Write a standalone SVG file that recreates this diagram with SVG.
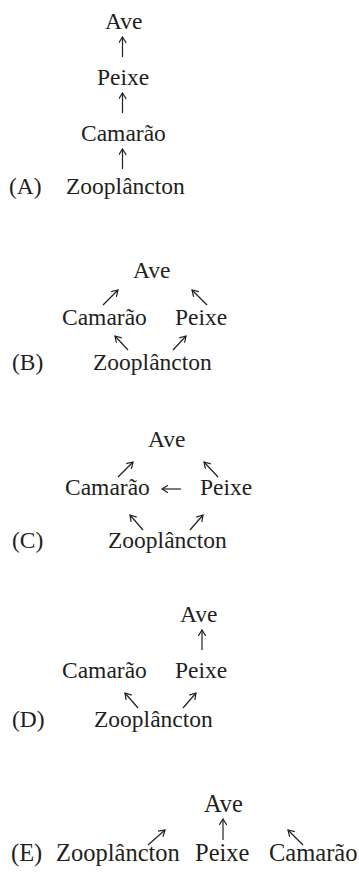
<svg xmlns="http://www.w3.org/2000/svg" width="359" height="872" viewBox="0 0 359 872">
<style>
text{font-family:"Liberation Serif","Times New Roman",serif;font-size:23.5px;fill:#231f20}
.e text{font-size:24.5px}
.c line{stroke:#231f20;stroke-width:1.2;fill:none;marker-end:url(#ah)}
</style>
<defs>
<marker id="ah" viewBox="0 0 8 8" refX="7" refY="4" markerWidth="8" markerHeight="8" orient="auto" markerUnits="userSpaceOnUse">
<path d="M1,0.3 L7,4 L1,7.7" fill="none" stroke="#231f20" stroke-width="1.2"/>
</marker>
</defs>
<rect width="359" height="872" fill="#fff"/>
<!-- Panel A -->
<g id="A-label"><text x="9" y="194">(A)</text></g>
<g id="A-ave"><text x="105" y="29">Ave</text></g>
<g id="A-peixe"><text x="97" y="85">Peixe</text></g>
<g id="A-camarao"><text x="81" y="141">Camarão</text></g>
<g id="A-zoo"><text x="66" y="194">Zooplâncton</text></g>
<!-- Panel B -->
<g id="B-label"><text x="12" y="370">(B)</text></g>
<g id="B-ave"><text x="133" y="278">Ave</text></g>
<g id="B-camarao"><text x="62" y="325">Camarão</text></g>
<g id="B-peixe"><text x="175" y="325">Peixe</text></g>
<g id="B-zoo"><text x="93" y="370">Zooplâncton</text></g>
<!-- Panel C -->
<g id="C-label"><text x="12" y="548">(C)</text></g>
<g id="C-ave"><text x="148" y="447">Ave</text></g>
<g id="C-camarao"><text x="65" y="495">Camarão</text></g>
<g id="C-peixe"><text x="200" y="495">Peixe</text></g>
<g id="C-zoo"><text x="108" y="548">Zooplâncton</text></g>
<!-- Panel D -->
<g id="D-label"><text x="12" y="727">(D)</text></g>
<g id="D-ave"><text x="180" y="622">Ave</text></g>
<g id="D-camarao"><text x="62" y="678">Camarão</text></g>
<g id="D-peixe"><text x="175" y="678">Peixe</text></g>
<g id="D-zoo"><text x="94" y="727">Zooplâncton</text></g>
<!-- Panel E -->
<g class="e">
<g id="E-label"><text x="11" y="861">(E)</text></g>
<g id="E-ave"><text x="204" y="812">Ave</text></g>
<g id="E-zoo"><text x="56" y="861">Zooplâncton</text></g>
<g id="E-peixe"><text x="195" y="861">Peixe</text></g>
<g id="E-camarao"><text x="269" y="861">Camarão</text></g>
</g>
<g id="connectors" class="c">
<!-- A -->
<line x1="122.5" y1="57" x2="122.5" y2="37"/>
<line x1="122.5" y1="113" x2="122.5" y2="93"/>
<line x1="122.5" y1="169" x2="122.5" y2="149"/>
<!-- B -->
<line x1="103" y1="305" x2="118" y2="290"/>
<line x1="207" y1="305" x2="192" y2="290"/>
<line x1="128" y1="350" x2="115" y2="336"/>
<line x1="173" y1="350" x2="186" y2="336"/>
<!-- C -->
<line x1="118" y1="477" x2="133" y2="462"/>
<line x1="218" y1="477" x2="204" y2="462"/>
<line x1="181" y1="489" x2="162" y2="489"/>
<line x1="143" y1="530" x2="130" y2="515"/>
<line x1="190" y1="530" x2="203" y2="515"/>
<!-- D -->
<line x1="202" y1="650" x2="202" y2="630"/>
<line x1="138" y1="708" x2="125" y2="693"/>
<line x1="183" y1="708" x2="196" y2="693"/>
<!-- E -->
<line x1="223" y1="840" x2="223" y2="819"/>
<line x1="148" y1="845" x2="165" y2="830"/>
<line x1="303" y1="845" x2="288" y2="830"/>
</g>
</svg>
